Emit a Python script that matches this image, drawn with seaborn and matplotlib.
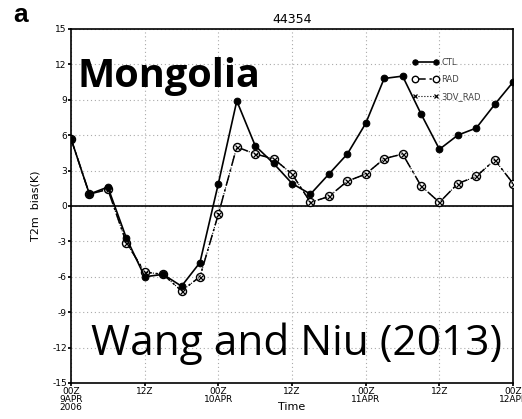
import matplotlib
matplotlib.use("Agg")
import matplotlib.pyplot as plt
import seaborn as sns
import pandas as pd

hours = [0, 3, 6, 9, 12, 15, 18, 21, 24, 27, 30, 33, 36, 39, 42, 45, 48, 51, 54, 57, 60, 63, 66, 69, 72]
ctl = [5.7, 1.0, 1.6, -2.7, -6.0, -5.8, -6.8, -4.8, 1.9, 8.9, 5.1, 3.6, 1.9, 1.0, 2.7, 4.4,
       7.0, 10.8, 11.0, 7.8, 4.8, 6.0, 6.6, 8.6, 10.5]
rad = [5.7, 1.0, 1.4, -3.1, -5.6, -5.8, -7.2, -6.0, -0.7, 5.0, 4.4, 4.0, 2.7, 0.3, 0.8, 2.1,
       2.7, 4.0, 4.4, 1.7, 0.3, 1.9, 2.5, 3.9, 1.9]
dv_rad = [5.7, 1.0, 1.4, -3.1, -5.6, -5.8, -7.2, -6.0, -0.7, 5.0, 4.4, 4.0, 2.7, 0.3, 0.8, 2.1,
          2.7, 4.0, 4.4, 1.7, 0.3, 1.9, 2.5, 3.9, 1.9]
xtick_pos = [0, 12, 24, 36, 48, 60, 72]
xtick_labels = ["00Z\n9APR\n2006", "12Z", "00Z\n10APR", "12Z", "00Z\n11APR", "12Z", "00Z\n12APR"]
yticks = [-15, -12, -9, -6, -3, 0, 3, 6, 9, 12, 15]

sns.set_theme(style="white")
plt.rcParams['font.family'] = ['DejaVu Sans']
plt.rcParams.update({"text.color": "black", "axes.labelcolor": "black",
                     "xtick.color": "black", "ytick.color": "black"})

fig = plt.figure(figsize=(5.22, 4.19), dpi=100)
ax = fig.add_axes([0.136, 0.086, 0.847, 0.845])

df = pd.DataFrame({"h": hours, "CTL": ctl, "RAD": rad, "3DV_RAD": dv_rad})

sns.lineplot(data=df, x="h", y="CTL", ax=ax, color="black", lw=1.2, marker="o",
             markersize=4.8, markerfacecolor="black", markeredgecolor="black", label="CTL", zorder=4)
sns.lineplot(data=df, x="h", y="RAD", ax=ax, color="black", lw=1.1, marker="o",
             markersize=5.8, markerfacecolor="white", markeredgecolor="black", markeredgewidth=1.0,
             label="RAD", zorder=3)
ax.lines[-1].set_dashes([7, 2.5, 1.5, 2.5])
sns.lineplot(data=df, x="h", y="3DV_RAD", ax=ax, color="black", lw=0.8, marker="x",
             markersize=3.6, markeredgewidth=0.9, markeredgecolor="black",
             label="3DV_RAD", zorder=3.5)
ax.lines[-1].set_linestyle(":")

ax.axhline(0, color="black", lw=1.2, zorder=2)

ax.set_xlim(0, 72)
ax.set_ylim(-15, 15)
ax.set_xticks(xtick_pos)
ax.set_xticklabels(xtick_labels, fontsize=6.5, linespacing=0.85)
ax.set_yticks(yticks)
ax.set_yticklabels([str(v) for v in yticks], fontsize=6.5)
ax.tick_params(axis="both", length=2, pad=1, direction="out", colors="black")
ax.tick_params(axis="both", which="both", bottom=True, left=True)
ax.grid(True, color="#aaaaaa", linestyle=(0, (1, 2.5)), lw=0.8)
for s in ax.spines.values():
    s.set_color("black")
    s.set_linewidth(1.2)

ax.set_xlabel("Time", fontsize=8)
ax.set_ylabel("T2m  bias(K)", fontsize=8, labelpad=8)
ax.xaxis.set_label_coords(0.5, -0.055)

ax.set_title("44354", fontsize=9, pad=4, color="black")

leg = ax.legend(loc="upper left", bbox_to_anchor=(0.755, 0.94), frameon=False, fontsize=6,
                numpoints=2, handlelength=3.2, labelspacing=1.0, handletextpad=0.3,
                markerscale=0.8)
for t in leg.get_texts():
    t.set_color("#444444")

fig.text(0.026, 0.948, "a", fontsize=19, fontweight="bold", family="Liberation Sans", color="black")
ax.text(0.015, 0.865, "Mongolia", transform=ax.transAxes, fontsize=28.5, fontweight="bold",
        family="Open Sans", va="center", color="black")
ax.text(0.975, 0.11, "Wang and Niu (2013)", transform=ax.transAxes, fontsize=30.5,
        family="Open Sans", ha="right", va="center", color="black")

fig.savefig("out.png", dpi=100)
